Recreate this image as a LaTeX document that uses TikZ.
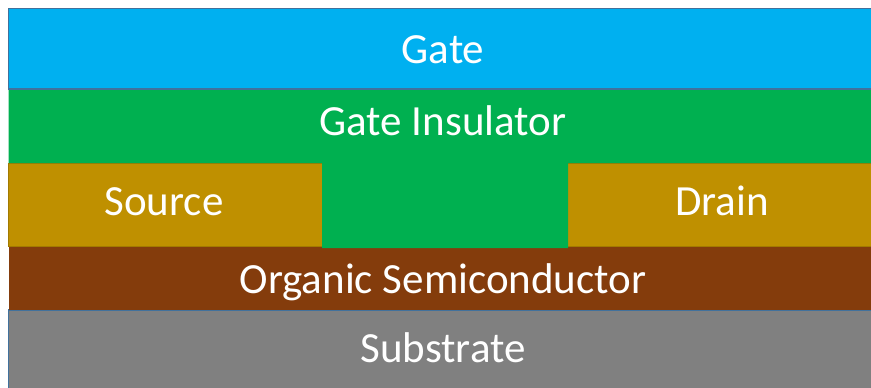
\documentclass[tikz,border=0pt]{standalone}
\usepackage{fontspec}
\setmainfont{Carlito}
\definecolor{gateblue}{HTML}{00B0F0}
\definecolor{insgreen}{HTML}{00B050}
\definecolor{contactgold}{HTML}{BF9000}
\definecolor{oscbrown}{HTML}{843C0C}
\definecolor{subgray}{HTML}{808080}
\definecolor{edgeblue}{HTML}{41719C}
\begin{document}
\begin{tikzpicture}[x=1pt,y=-1pt,
  layerlabel/.style={text=white,font=\fontsize{43}{43}\selectfont,anchor=base,inner sep=0pt},
  outlined/.style={draw=edgeblue,line width=1.2pt}]
\useasboundingbox (0,0) rectangle (871,388);
% substrate and semiconductor
\filldraw[fill=subgray,outlined] (8.5,310) rectangle (875,392);
\fill[oscbrown] (8.5,246) rectangle (875,310);
% source / drain contacts
\filldraw[fill=contactgold,draw=contactgold!85!black,line width=0.6pt] (8.5,163) rectangle (875,246.5);
% gate insulator reaching down between the contacts
\fill[insgreen] (8.5,89) -- (875,89) -- (875,163) -- (568,163) -- (568,248)
  -- (322,248) -- (322,163) -- (8.5,163) -- cycle;
% gate electrode
\filldraw[fill=gateblue,outlined] (8.5,8.5) rectangle (875,89);
% labels
\node[layerlabel] (gate) at (443,63) {Gate};
\node[layerlabel] (ins) at (443,135) {Gate Insulator};
\node[layerlabel] (src) at (164,215) {Source};
\node[layerlabel] (drn) at (722,215) {Drain};
\node[layerlabel] (osc) at (443,293) {Organic Semiconductor};
\node[layerlabel] (sub) at (443,362) {Substrate};
\end{tikzpicture}
\end{document}
